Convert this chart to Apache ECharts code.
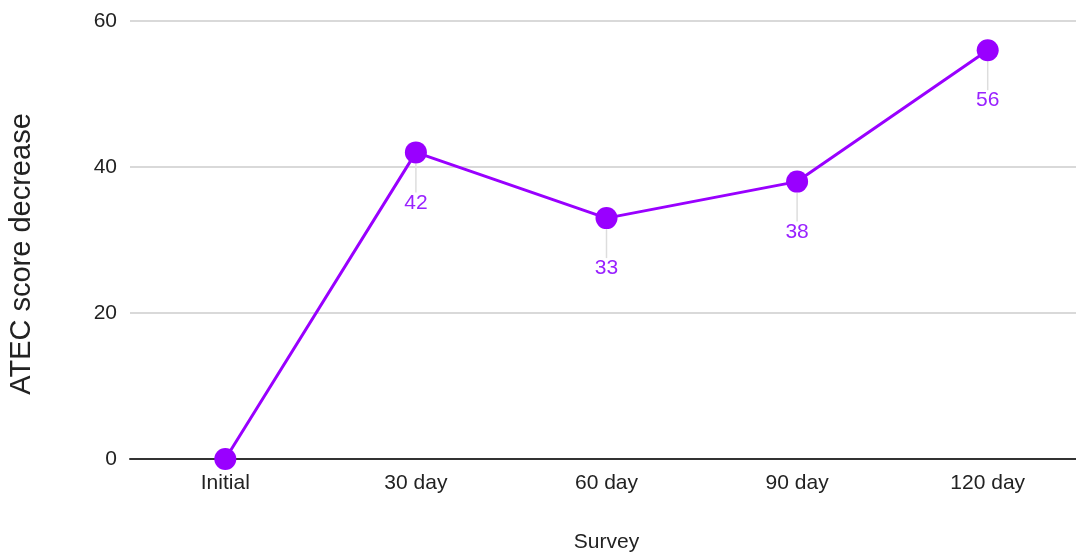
<!DOCTYPE html>
<html><head><meta charset="utf-8">
<script src="https://cdn.jsdelivr.net/npm/echarts@6/dist/echarts.min.js"></script>
<style>html,body{margin:0;padding:0;background:#fff}#c{width:1076px;height:556px}</style>
</head><body><div id="c"></div>
<script>
const categories = ['Initial', '30 day', '60 day', '90 day', '120 day'];
const values = [0, 42, 33, 38, 56];
const yTicks = [0, 20, 40, 60];

const seriesData = values.map(v => ({
  value: v,
  label: { show: v !== 0 },
  labelLine: { show: v !== 0 }
}));

const chart = echarts.init(document.getElementById('c'));
chart.setOption({
  animation: false,
  textStyle: { fontFamily: 'Liberation Sans, Arial, sans-serif' },
  grid: { left: 130, right: -7, top: 21, bottom: 97, containLabel: false, outerBoundsMode: 'none' },
  xAxis: {
    type: 'category', data: categories, boundaryGap: true,
    name: 'Survey', nameLocation: 'middle', nameGap: 73,
    nameTextStyle: { fontSize: 21, color: '#222' },
    axisLine: { lineStyle: { color: '#333', width: 2 } },
    axisTick: { show: false },
    axisLabel: { fontSize: 21, color: '#222', margin: 14 }
  },
  yAxis: {
    type: 'value', min: yTicks[0], max: yTicks[yTicks.length - 1], interval: 20,
    name: 'ATEC score decrease', nameLocation: 'middle', nameGap: 94,
    nameTextStyle: { fontSize: 29, color: '#222', padding: [0, 28, 0, 0] },
    axisLine: { show: false }, axisTick: { show: false },
    axisLabel: { fontSize: 21, color: '#222', margin: 13 },
    splitLine: { lineStyle: { color: '#ccc', width: 1.5 } }
  },
  series: [{
    type: 'line', data: seriesData,
    symbol: 'circle', symbolSize: 22,
    itemStyle: { color: '#9900ff' },
    lineStyle: { color: '#9900ff', width: 3 },
    label: {
      show: true, position: 'bottom', distance: 10,
      fontSize: 21, color: '#9922ff'
    },
    labelLayout: { dy: 19 },
    labelLine: { show: true, lineStyle: { color: '#ddd', width: 1.5 } }
  }]
});
</script></body></html>
